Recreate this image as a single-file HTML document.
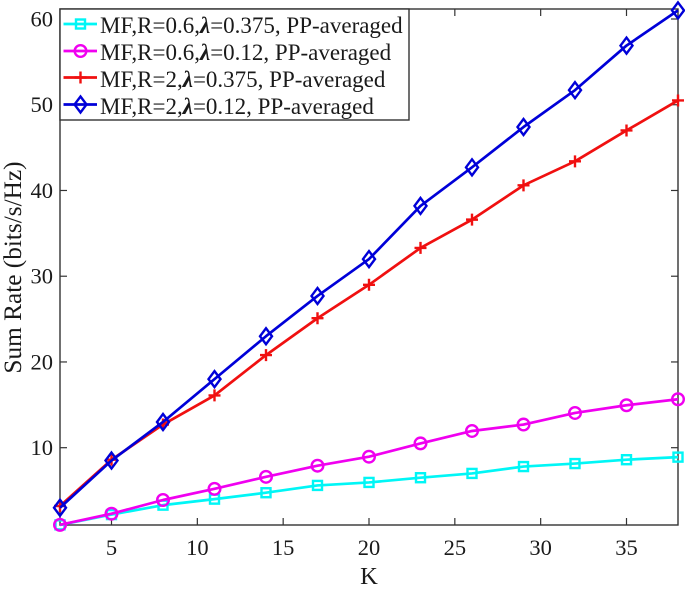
<!DOCTYPE html>
<html>
<head>
<meta charset="utf-8">
<style>
html,body{margin:0;padding:0;background:#fff;}
svg{display:block;}
text{font-family:"Liberation Serif","DejaVu Serif",serif;fill:#1a1a1a;}
</style>
</head>
<body>
<svg id="chart" width="685" height="589" viewBox="0 0 685 589" xmlns="http://www.w3.org/2000/svg">
<rect x="60" y="9" width="618" height="516" fill="#fff" stroke="#333" stroke-width="1.4"/>
<g id="ticks"></g>
<g id="series"></g>
<text x="369" y="584" font-size="24.5" text-anchor="middle">K</text>
<text transform="translate(21,267.5) rotate(-90)" font-size="25.3" text-anchor="middle">Sum Rate (bits/s/Hz)</text>
<g id="legend">
<rect x="60" y="9" width="349" height="111" fill="#fff" stroke="#333" stroke-width="1.4"/>
<g><text x="100" y="33" font-size="23">MF,R=0.6,<tspan font-style="italic" font-weight="bold">λ</tspan>=0.375, PP-averaged</text></g>
<g><text x="100" y="60" font-size="23">MF,R=0.6,<tspan font-style="italic" font-weight="bold">λ</tspan>=0.12, PP-averaged</text></g>
<g><text x="100" y="87" font-size="23">MF,R=2,<tspan font-style="italic" font-weight="bold">λ</tspan>=0.375, PP-averaged</text></g>
<g><text x="100" y="114" font-size="23">MF,R=2,<tspan font-style="italic" font-weight="bold">λ</tspan>=0.12, PP-averaged</text></g>
</g>
<g id="legend-marks"></g>
</svg>
<script>
var categories = [2,5,8,11,14,17,20,23,26,29,32,35,38];
var cyanValues = [1.0,2.2,3.3,4.0,4.75,5.6,5.95,6.5,7.0,7.8,8.15,8.6,8.9];
var magentaValues = [1.0,2.3,3.9,5.2,6.6,7.9,8.95,10.5,11.95,12.7,14.05,14.95,15.65];
var redValues = [3.2,8.6,12.7,16.1,20.8,25.1,29.0,33.3,36.6,40.6,43.4,47.0,50.5];
var blueValues = [3.0,8.5,13.0,18.0,23.0,27.7,32.0,38.2,42.7,47.4,51.7,56.9,61.0];
var xTicks = [5,10,15,20,25,30,35];
var yTicks = [10,20,30,40,50,60];

var NS = 'http://www.w3.org/2000/svg';
function xScale(v){ return 60 + (v - 2) * 618 / 36; }
function yScale(v){ return 447.7 - (v - 10) * 8.574; }
function make(tag, attrs, parent){
  var el = document.createElementNS(NS, tag);
  for (var k in attrs) el.setAttribute(k, attrs[k]);
  parent.appendChild(el);
  return el;
}
var tickG = document.getElementById('ticks');
xTicks.forEach(function(t){
  var x = xScale(t);
  [[525,518],[9,16]].forEach(function(p){
    var l = make('line', {x1:x, x2:x, y1:p[0], y2:p[1], stroke:'#333', 'stroke-width':1.2}, tickG);
    
    
  });
  var lab = make('text', {x:x, y:555, 'font-size':22.5, 'text-anchor':'middle'}, tickG);
  lab.textContent = t;
  
  
});
yTicks.forEach(function(t){
  var y = yScale(t);
  [[60,67],[678,671]].forEach(function(p){
    var l = make('line', {x1:p[0], x2:p[1], y1:y, y2:y, stroke:'#333', 'stroke-width':1.2}, tickG);
    
    
  });
  var lab = make('text', {x:53, y:y + 7.5, 'font-size':22.5, 'text-anchor':'end'}, tickG);
  lab.textContent = t;
  
  
});
function drawMarker(kind, x, y, color, parent){
  var el;
  var st = {fill:'none', stroke:color, 'stroke-width':2.4};
  if (kind === 'square') { st.x = x - 4.5; st.y = y - 4.5; st.width = 9; st.height = 9; el = make('rect', st, parent); }
  else if (kind === 'circle') { st.cx = x; st.cy = y; st.r = 5.8; el = make('circle', st, parent); }
  else if (kind === 'plus') { st.d = 'M' + (x - 6) + ' ' + y + 'H' + (x + 6) + 'M' + x + ' ' + (y - 6) + 'V' + (y + 6); el = make('path', st, parent); }
  else { st.d = 'M' + x + ' ' + (y - 8) + 'L' + (x + 6) + ' ' + y + 'L' + x + ' ' + (y + 8) + 'L' + (x - 6) + ' ' + y + 'Z'; el = make('path', st, parent); }
  return el;
}
var seriesList = [
  {name:'cyan', values:cyanValues, color:'#00f6f6', marker:'square', ly:24},
  {name:'magenta', values:magentaValues, color:'#f000f0', marker:'circle', ly:51},
  {name:'red', values:redValues, color:'#f01010', marker:'plus', ly:77.5},
  {name:'blue', values:blueValues, color:'#0000d8', marker:'diamond', ly:104.5}
];
var seriesG = document.getElementById('series');
var legendMarks = document.getElementById('legend-marks');
[seriesList[2], seriesList[0], seriesList[1], seriesList[3]].forEach(function(s){
  var g = make('g', {}, seriesG);
  
  
  var pts = s.values.map(function(v, i){ return xScale(categories[i]) + ',' + yScale(v); }).join(' ');
  var line = make('polyline', {points:pts, fill:'none', stroke:s.color, 'stroke-width':2.7, 'stroke-linejoin':'round'}, g);
  
  
  s.values.forEach(function(v, i){
    var m = drawMarker(s.marker, xScale(categories[i]), yScale(v), s.color, g);
    
    
  });
});
seriesList.forEach(function(s){
  var l = make('line', {x1:63.5, x2:97, y1:s.ly, y2:s.ly, stroke:s.color, 'stroke-width':2.7}, legendMarks);
  
  
  var m = drawMarker(s.marker, 80.5, s.ly, s.color, legendMarks);
  
  
});
</script>
</body>
</html>
